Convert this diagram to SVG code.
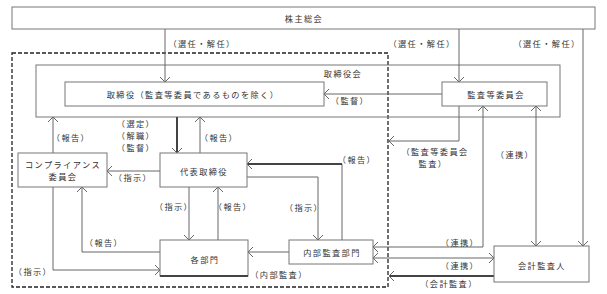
<svg xmlns="http://www.w3.org/2000/svg" width="607" height="294" viewBox="0 0 607 294">
<style>
text{font-family:"Noto Sans CJK JP","Noto Sans",sans-serif;font-size:8.2px;fill:#333;text-anchor:middle;dominant-baseline:central;letter-spacing:1.4px}
.box{fill:#fff;stroke:#777;stroke-width:1}
.cont{fill:none;stroke:#777;stroke-width:1}
.dash{fill:none;stroke:#222;stroke-width:1.3;stroke-dasharray:4 2}
.ln{fill:none;stroke:#666;stroke-width:1;marker-end:url(#a)}
.both{marker-start:url(#a)}
.thick{fill:none;stroke:#444;stroke-width:2;marker-end:url(#a)}
</style>
<defs>
<marker id="a" viewBox="-6 -6 7 12" refX="0" refY="0" markerWidth="7" markerHeight="12" markerUnits="userSpaceOnUse" orient="auto-start-reverse">
<path d="M-5,-5 L0,0 L-5,5" fill="none" stroke="#666" stroke-width="1"/>
</marker>
</defs>
<rect width="607" height="294" fill="#fff"/>
<g id="boundary"><rect class="dash" x="12" y="53" width="376" height="234"/></g>
<g id="torishimariyakukai"><rect class="cont" x="36" y="65" width="524" height="52"/><text x="343" y="73">取締役会</text></g>
<g id="connectors">
<path class="ln" d="M165,29 V82"/>
<path class="ln" d="M459,29 V82"/>
<path class="ln" d="M583,29 V246"/>
<path class="ln" d="M442,94 H324"/>
<path class="ln" d="M459,106 V141 H389"/>
<path class="ln both" d="M373,247 H483 V106"/>
<path class="ln both" d="M536,106 V246"/>
<path class="ln both" d="M373,258 H494"/>
<path class="thick" d="M494,276 H389"/>
<path class="thick" d="M177,117 V153"/>
<path class="ln" d="M200,153 V117"/>
<path class="ln" d="M53,153 V117"/>
<path class="ln" d="M160,171 H107"/>
<path class="ln" d="M189,187 V240"/>
<path class="ln" d="M218,240 V187"/>
<path class="ln" d="M160,252 H82 V187"/>
<path class="ln" d="M53,187 V270 H160"/>
<path class="ln" d="M289,252 H248"/>
<path class="ln" d="M247,177 H318 V240"/>
<path fill="none" stroke="#666" stroke-width="1" d="M342,240 V164"/>
<path class="thick" d="M342,164 H247"/>
<text x="202" y="43">（選任・解任）</text>
<text x="422" y="43">（選任・解任）</text>
<text x="547" y="43">（選任・解任）</text>
<text x="350" y="100">（監督）</text>
<text x="71" y="137">（報告）</text>
<text x="136" y="123">（選定）</text>
<text x="136" y="135">（解職）</text>
<text x="136" y="147">（監督）</text>
<text x="219" y="137">（報告）</text>
<text x="435" y="150.5">（監査等委員会</text>
<text x="433" y="162.5">監査）</text>
<text x="515" y="154">（連携）</text>
<text x="357" y="159">（報告）</text>
<text x="133" y="177">（指示）</text>
<text x="174" y="206">（指示）</text>
<text x="233" y="206">（報告）</text>
<text x="304" y="207">（指示）</text>
<text x="104" y="242">（報告）</text>
<text x="460" y="242">（連携）</text>
<text x="460" y="265">（連携）</text>
<text x="33" y="271">（指示）</text>
<text x="279" y="274">（内部監査）</text>
<text x="449" y="283">（会計監査）</text>
</g>
<g id="kabunushi"><rect class="box" x="12" y="7" width="583" height="22"/><text x="304" y="18">株主総会</text></g>
<g id="torishimariyaku"><rect class="box" x="65" y="82" width="259" height="24"/><text x="193" y="94">取締役（監査等委員であるものを除く）</text></g>
<g id="kansatouiinkai"><rect class="box" x="442" y="82" width="105" height="24"/><text x="496" y="94">監査等委員会</text></g>
<g id="compliance"><rect class="box" x="18" y="153" width="89" height="34"/><text x="63" y="164">コンプライアンス</text><text x="63" y="176">委員会</text></g>
<g id="daihyo"><rect class="box" x="160" y="153" width="87" height="34"/><text x="204" y="171">代表取締役</text></g>
<g id="kakubumon"><rect class="box" x="160" y="240" width="88" height="36"/><path d="M160,276 H248" stroke="#444" stroke-width="2"/><text x="205" y="259">各部門</text></g>
<g id="naibukansa"><rect class="box" x="289" y="240" width="84" height="24"/><text x="332" y="252">内部監査部門</text></g>
<g id="kaikeikansanin"><rect class="box" x="494" y="246" width="95" height="36"/><text x="542" y="265">会計監査人</text></g>
</svg>
